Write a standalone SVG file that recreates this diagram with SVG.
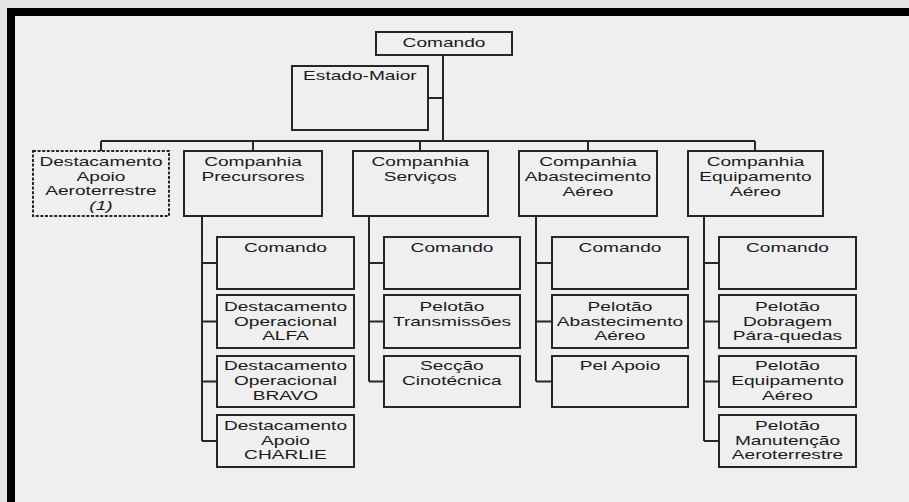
<svg xmlns="http://www.w3.org/2000/svg" width="909" height="502" viewBox="0 0 909 502">
<style>
.bg{fill:#efefef}
.frame{fill:#000}
.box{fill:none;stroke:#262626;stroke-width:2}
.dash{stroke-dasharray:3 1.6}
.ln{fill:none;stroke:#262626;stroke-width:2}
.t{font-family:"Liberation Sans",Arial,sans-serif;font-size:13px;fill:#1a1a1a;text-anchor:middle;transform-box:fill-box;transform-origin:center;transform:scaleX(1.47)}
.it{font-style:italic}
</style>
<rect class="bg" x="0" y="0" width="909" height="502"/>
<rect x="0" y="0" width="909" height="8" fill="#e4e4e4"/>
<rect x="0" y="0" width="7" height="502" fill="#e4e4e4"/>
<rect class="frame" x="7" y="8" width="902" height="8"/>
<rect class="frame" x="7" y="8" width="8" height="494"/>

<g id="connectors">
<path class="ln" d="M443 55V141M428 98H443M101 141H755M101 141V151M253 141V151M420 141V151M588 141V151M755 141V151"/>
<path class="ln" d="M202 216V441M202 263H217M202 321.5H217M202 381.5H217M202 441H217"/>
<path class="ln" d="M369 216V381.5M369 263H384M369 321.5H384M369 381.5H384"/>
<path class="ln" d="M536 216V381.5M536 263H552M536 321.5H552M536 381.5H552"/>
<path class="ln" d="M704 216V441M704 263H719M704 321.5H719M704 381.5H719M704 441H719"/>
</g>

<g id="comando"><rect class="box" x="376" y="32" width="136" height="23"/><text class="t" x="444" y="47.5">Comando</text></g>
<g id="estado-maior"><rect class="box" x="292" y="66" width="136" height="64"/><text class="t" x="360" y="80.5">Estado-Maior</text></g>

<g id="dest-apoio"><rect class="box dash" x="33" y="151" width="136" height="65"/><text class="t" x="101" y="166"><tspan x="101">Destacamento</tspan><tspan x="101" dy="14.6">Apoio</tspan><tspan x="101" dy="14.6">Aeroterrestre</tspan><tspan class="it" x="101" dy="14.6">(1)</tspan></text></g>
<g id="cia-precursores"><rect class="box" x="184" y="151" width="138" height="65"/><text class="t" x="253" y="166.5"><tspan x="253">Companhia</tspan><tspan x="253" dy="14.6">Precursores</tspan></text></g>
<g id="cia-servicos"><rect class="box" x="353" y="151" width="135" height="65"/><text class="t" x="420.5" y="166.5"><tspan x="420.5">Companhia</tspan><tspan x="420.5" dy="14.6">Serviços</tspan></text></g>
<g id="cia-abastecimento"><rect class="box" x="519" y="151" width="138" height="65"/><text class="t" x="588" y="166.5"><tspan x="588">Companhia</tspan><tspan x="588" dy="14.6">Abastecimento</tspan><tspan x="588" dy="14.6">Aéreo</tspan></text></g>
<g id="cia-equipamento"><rect class="box" x="688" y="151" width="135" height="65"/><text class="t" x="755.5" y="166.5"><tspan x="755.5">Companhia</tspan><tspan x="755.5" dy="14.6">Equipamento</tspan><tspan x="755.5" dy="14.6">Aéreo</tspan></text></g>

<g id="p-comando"><rect class="box" x="217" y="237" width="137" height="52"/><text class="t" x="285.5" y="252.5">Comando</text></g>
<g id="p-alfa"><rect class="box" x="217" y="295" width="137" height="53"/><text class="t" x="285.5" y="311"><tspan x="285.5">Destacamento</tspan><tspan x="285.5" dy="14.6">Operacional</tspan><tspan x="285.5" dy="14.6">ALFA</tspan></text></g>
<g id="p-bravo"><rect class="box" x="217" y="356" width="137" height="51"/><text class="t" x="285.5" y="370.5"><tspan x="285.5">Destacamento</tspan><tspan x="285.5" dy="14.6">Operacional</tspan><tspan x="285.5" dy="14.6">BRAVO</tspan></text></g>
<g id="p-charlie"><rect class="box" x="217" y="415" width="137" height="52"/><text class="t" x="285.5" y="430"><tspan x="285.5">Destacamento</tspan><tspan x="285.5" dy="14.6">Apoio</tspan><tspan x="285.5" dy="14.6">CHARLIE</tspan></text></g>

<g id="s-comando"><rect class="box" x="384" y="237" width="136" height="52"/><text class="t" x="452" y="252.5">Comando</text></g>
<g id="s-transmissoes"><rect class="box" x="384" y="295" width="136" height="53"/><text class="t" x="452" y="311"><tspan x="452">Pelotão</tspan><tspan x="452" dy="14.6">Transmissões</tspan></text></g>
<g id="s-cinotecnica"><rect class="box" x="384" y="356" width="136" height="51"/><text class="t" x="452" y="370.5"><tspan x="452">Secção</tspan><tspan x="452" dy="14.6">Cinotécnica</tspan></text></g>

<g id="a-comando"><rect class="box" x="552" y="237" width="136" height="52"/><text class="t" x="620" y="252.5">Comando</text></g>
<g id="a-abastecimento"><rect class="box" x="552" y="295" width="136" height="53"/><text class="t" x="620" y="311"><tspan x="620">Pelotão</tspan><tspan x="620" dy="14.6">Abastecimento</tspan><tspan x="620" dy="14.6">Aéreo</tspan></text></g>
<g id="a-pel-apoio"><rect class="box" x="552" y="356" width="136" height="51"/><text class="t" x="620" y="370.5">Pel Apoio</text></g>

<g id="e-comando"><rect class="box" x="719" y="237" width="137" height="52"/><text class="t" x="787.5" y="252.5">Comando</text></g>
<g id="e-dobragem"><rect class="box" x="719" y="295" width="137" height="53"/><text class="t" x="787.5" y="311"><tspan x="787.5">Pelotão</tspan><tspan x="787.5" dy="14.6">Dobragem</tspan><tspan x="787.5" dy="14.6">Pára-quedas</tspan></text></g>
<g id="e-equipamento"><rect class="box" x="719" y="356" width="137" height="51"/><text class="t" x="787.5" y="370.5"><tspan x="787.5">Pelotão</tspan><tspan x="787.5" dy="14.6">Equipamento</tspan><tspan x="787.5" dy="14.6">Aéreo</tspan></text></g>
<g id="e-manutencao"><rect class="box" x="719" y="415" width="137" height="52"/><text class="t" x="787.5" y="430"><tspan x="787.5">Pelotão</tspan><tspan x="787.5" dy="14.6">Manutenção</tspan><tspan x="787.5" dy="14.6">Aeroterrestre</tspan></text></g>
</svg>
